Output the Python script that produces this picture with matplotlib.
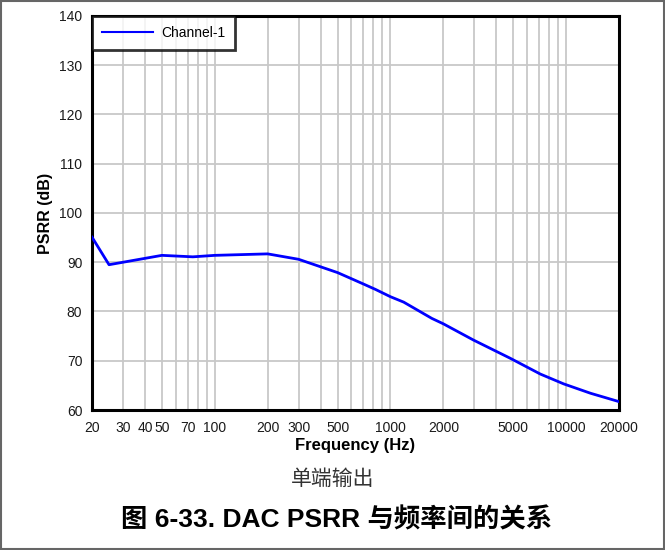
import matplotlib
matplotlib.use("Agg")
import matplotlib.pyplot as plt
from matplotlib.patches import Rectangle
from matplotlib.ticker import FixedLocator, FixedFormatter, NullFormatter, LogLocator

plt.rcParams['font.family'] = ['Liberation Sans', 'Noto Sans CJK SC', 'DejaVu Sans']

freq = [20, 25, 50, 75, 100, 200, 300, 500, 700, 820, 1000, 1190, 1720, 2000, 2970,
        4810, 7130, 9690, 13770, 20000]
psrr = [95.1, 89.5, 91.4, 91.1, 91.4, 91.7, 90.6, 87.9, 85.6, 84.5, 83.0, 81.9, 78.6,
        77.5, 74.2, 70.5, 67.3, 65.3, 63.4, 61.7]
series_name = "Channel-1"
xticks = [20, 30, 40, 50, 70, 100, 200, 300, 500, 1000, 2000, 5000, 10000, 20000]
xticklabels = ["20", "30", "40", "50", "70", "100", "200", "300", "500", "1000", "2000",
               "5000", "10000", "20000"]
yticks = [60, 70, 80, 90, 100, 110, 120, 130, 140]

fig = plt.figure(figsize=(6.65, 5.5), dpi=100)
ax = fig.add_axes([92/665, 1-410/550, (619-92)/665, (410-16)/550])

ax.plot(freq, psrr, color='#0000ff', lw=2, label=series_name, zorder=3)
ax.set_xscale('log')
ax.set_xlim(20, 20000)
ax.set_ylim(60, 140)

ax.xaxis.set_major_locator(FixedLocator(xticks))
ax.xaxis.set_major_formatter(FixedFormatter(xticklabels))
ax.xaxis.set_minor_locator(LogLocator(base=10, subs=range(1, 10), numticks=20))
ax.xaxis.set_minor_formatter(NullFormatter())
ax.set_yticks(yticks)

ax.grid(True, which='both', axis='x', color='#c8c8c8', lw=1.3, zorder=0)
ax.grid(True, which='major', axis='y', color='#c8c8c8', lw=1.3, zorder=0)
ax.tick_params(which='both', length=0, labelsize=10, colors='#1a1a1a')
ax.tick_params(axis='x', pad=8)
ax.tick_params(axis='y', pad=7)
for s in ax.spines.values():
    s.set_linewidth(2.2)
    s.set_color('black')

ax.set_xlabel("Frequency (Hz)", fontsize=12, fontweight='bold', labelpad=2)
ax.set_ylabel("PSRR (dB)", fontsize=11.5, fontweight='bold', labelpad=4)

leg = ax.legend(loc='upper left', fontsize=10, frameon=True, fancybox=False,
                borderaxespad=0, handlelength=3.7, borderpad=0.72, handletextpad=0.55)
leg.get_frame().set_edgecolor('black')
leg.get_frame().set_linewidth(2)
for h in leg.get_lines():
    h.set_linewidth(1.5)

fig.text(0.5, 1-479/550, "单端输出", ha='center', va='center', fontsize=15,
         color='#333333', family=['Noto Sans CJK SC'])
fig.text(337/665, 1-520/550, "图 6-33. DAC PSRR 与频率间的关系", ha='center', va='center',
         fontsize=19, fontweight='bold', family=['Liberation Sans', 'Noto Sans CJK SC'])

fig.patches.append(Rectangle((1/665, 1/550), 1-2/665, 1-2/550, transform=fig.transFigure,
                             fill=False, edgecolor='#666666', lw=1.5))

fig.savefig("out.png", dpi=100)
